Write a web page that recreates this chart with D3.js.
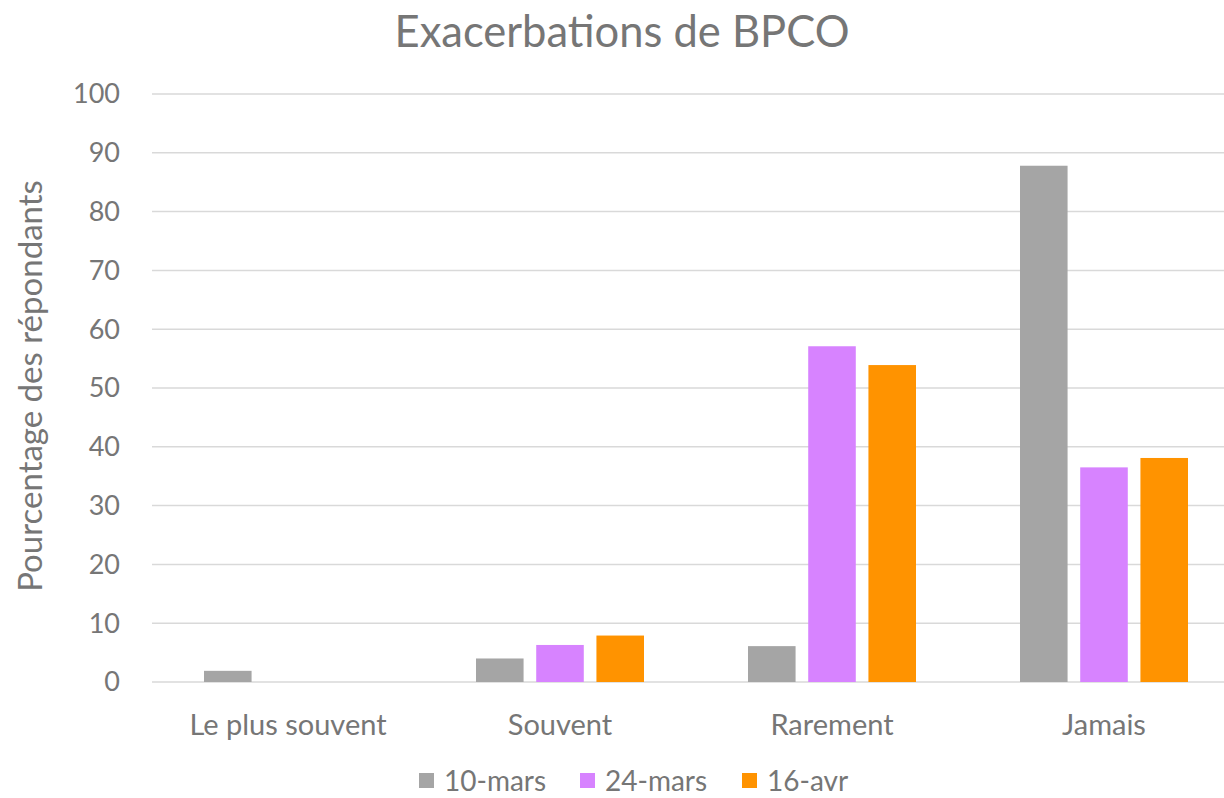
<!DOCTYPE html>
<meta charset="utf-8">
<style>
  body { margin: 0; background: #fff; }
  svg text { font-family: Lato, "Open Sans", sans-serif; fill: #767676; }
</style>
<svg id="chart" width="1224" height="798"></svg>
<script src="https://d3js.org/d3.v7.min.js"></script>
<script>
var categories = ["Le plus souvent", "Souvent", "Rarement", "Jamais"];
var seriesNames = ["10-mars", "24-mars", "16-avr"];
var seriesColors = ["#a5a5a5", "#d783ff", "#ff9300"];
var mars10 = [1.9, 4.0, 6.1, 87.8];
var mars24 = [0, 6.3, 57.1, 36.5];
var avr16 = [0, 7.9, 53.9, 38.1];
var yTicks = [0, 10, 20, 30, 40, 50, 60, 70, 80, 90, 100];

var seriesValues = [mars10, mars24, avr16];

var svg = d3.select("#chart"),
    margin = {top: 94, left: 152, bottom: 116},
    height = 798 - margin.top - margin.bottom,
    plotWidth = 1088;

var g = svg.append("g").attr("transform", "translate(" + margin.left + "," + margin.top + ")");

var x0 = d3.scaleBand().domain(categories).range([0, plotWidth]);
var x1 = d3.scaleBand().domain(seriesNames)
    .range([52, x0.bandwidth() - 52])
    .paddingInner(0.21);
var y = d3.scaleLinear().domain([0, 100]).range([height, 0]);

// gridlines
g.selectAll("line.grid").data(yTicks).enter().append("line")
    .attr("class", "grid")
    .attr("x1", 0).attr("x2", plotWidth)
    .attr("y1", function(d) { return y(d); })
    .attr("y2", function(d) { return y(d); })
    .attr("stroke", "#d9d9d9")
    .attr("stroke-width", 1.5);

// y tick labels
g.selectAll("text.ytick").data(yTicks).enter().append("text")
    .attr("class", "ytick")
    .attr("x", -32)
    .attr("y", function(d) { return y(d); })
    .attr("dy", "0.35em")
    .attr("text-anchor", "end")
    .style("font-size", "27px")
    .text(function(d) { return d; });

// bars
var groups = g.selectAll("g.cat").data(categories).enter().append("g")
    .attr("class", "cat")
    .attr("transform", function(d) { return "translate(" + x0(d) + ",0)"; });

groups.selectAll("rect").data(function(c, ci) {
      return seriesNames.map(function(s, si) { return {s: s, i: si, v: seriesValues[si][ci]}; });
    })
  .enter().append("rect")
    .attr("x", function(d) { return x1(d.s); })
    .attr("width", x1.bandwidth())
    .attr("y", function(d) { return y(d.v); })
    .attr("height", function(d) { return y(0) - y(d.v); })
    .attr("fill", function(d) { return seriesColors[d.i]; });

// category labels
g.selectAll("text.xtick").data(categories).enter().append("text")
    .attr("class", "xtick")
    .attr("x", function(d) { return x0(d) + x0.bandwidth() / 2; })
    .attr("y", height + 43)
    .attr("dy", "0.35em")
    .attr("text-anchor", "middle")
    .style("font-size", "29px")
    .text(function(d) { return d; });

// title
svg.append("text")
    .attr("x", 622).attr("y", 32).attr("dy", "0.35em")
    .attr("text-anchor", "middle")
    .style("font-size", "43.5px")
    .text("Exacerbations de BPCO");

// y axis title
svg.append("text")
    .attr("transform", "translate(30,386) rotate(-90)")
    .attr("dy", "0.35em")
    .attr("text-anchor", "middle")
    .style("font-size", "33px")
    .text("Pourcentage des répondants");

// legend
var legendX = [419, 580, 742];
var legend = svg.selectAll("g.legend").data(seriesNames).enter().append("g")
    .attr("class", "legend")
    .attr("transform", function(d, i) { return "translate(" + legendX[i] + ",773)"; });
legend.append("rect").attr("width", 15).attr("height", 15)
    .attr("fill", function(d, i) { return seriesColors[i]; });
legend.append("text").attr("x", 25).attr("y", 8).attr("dy", "0.35em")
    .style("font-size", "28px")
    .text(function(d) { return d; });
</script>
